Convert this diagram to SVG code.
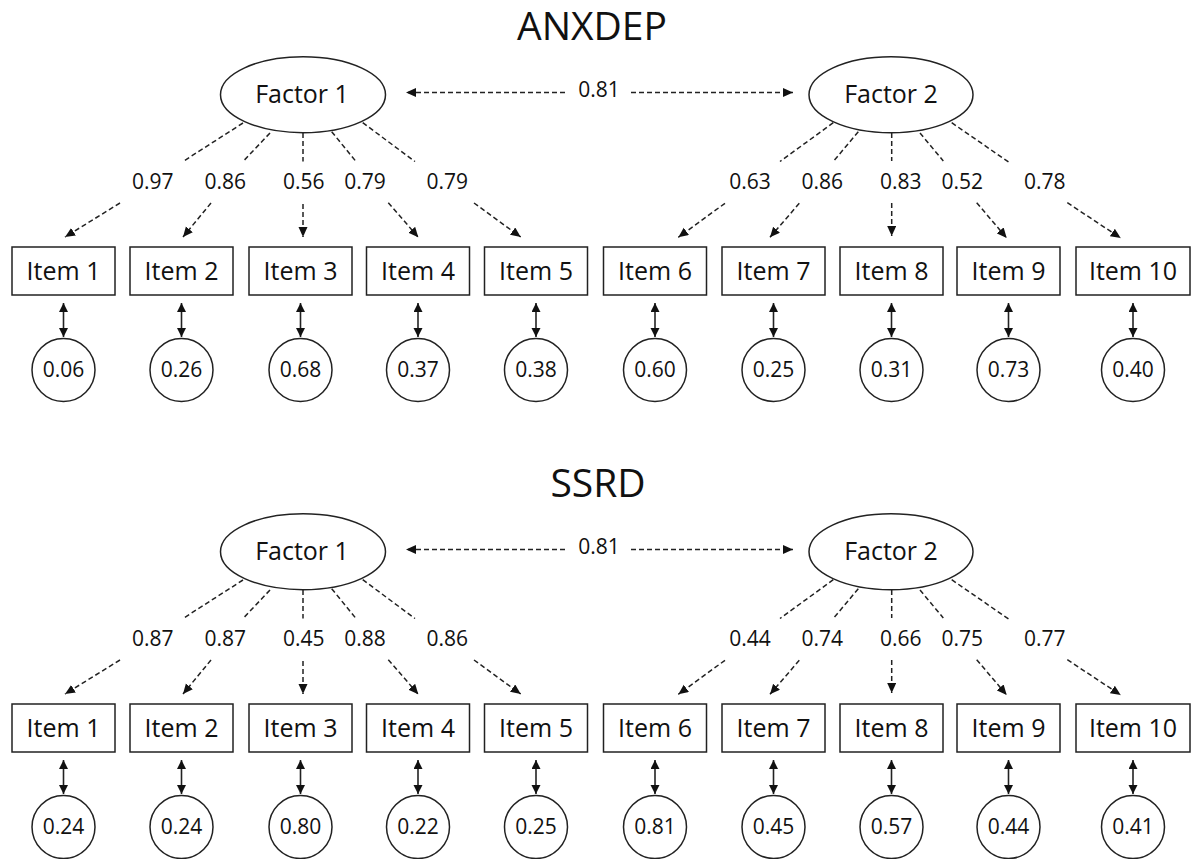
<svg xmlns="http://www.w3.org/2000/svg" width="1192" height="859" viewBox="0 0 1192 859">
<style>
text{font-family:"Open Sans","Liberation Sans",sans-serif;fill:#111;text-anchor:middle}
.title{font-size:39px}
.fac{font-size:25px}
.item{font-size:25px}
.lab{font-size:21px}
.res{font-size:21px}
.shape{fill:#fff;stroke:#222;stroke-width:1.5}
.dash{stroke:#222;stroke-width:1.5;stroke-dasharray:5,3;fill:none}
.solid{stroke:#222;stroke-width:1.6;fill:none}
</style>
<defs>
<marker id="ah" markerUnits="userSpaceOnUse" markerWidth="11" markerHeight="10" refX="10" refY="4.5" orient="auto-start-reverse" viewBox="0 0 11 10">
<path d="M0,0 L10,4.5 L0,9 z" fill="#111"/>
</marker>
<marker id="ah2" markerUnits="userSpaceOnUse" markerWidth="10" markerHeight="10" refX="9" refY="4.5" orient="auto-start-reverse" viewBox="0 0 10 10">
<path d="M0,0 L9,4.5 L0,9 z" fill="#111"/>
</marker>
</defs>

<g id="panel-anxdep">
<text id="title-anxdep" class="title" x="592" y="40">ANXDEP</text>
<g id="connectors-anxdep">
<line class="dash" x1="565" y1="92.5" x2="406" y2="92.5" marker-end="url(#ah)"/>
<line class="dash" x1="631" y1="92.5" x2="793" y2="92.5" marker-end="url(#ah)"/>
<text class="lab" x="599" y="97">0.81</text>
<line class="dash" x1="243" y1="123" x2="183" y2="161.5"/>
<line class="dash" x1="120" y1="203" x2="65" y2="237" marker-end="url(#ah)"/>
<line class="dash" x1="270" y1="133" x2="243" y2="161.5"/>
<line class="dash" x1="211" y1="203" x2="183" y2="237" marker-end="url(#ah)"/>
<line class="dash" x1="303" y1="133" x2="303" y2="161.5"/>
<line class="dash" x1="303" y1="204" x2="303" y2="237" marker-end="url(#ah)"/>
<line class="dash" x1="331.7" y1="131.7" x2="356" y2="161.5"/>
<line class="dash" x1="388.3" y1="202.7" x2="418.3" y2="237.3" marker-end="url(#ah)"/>
<line class="dash" x1="362.7" y1="122.7" x2="415" y2="161.5"/>
<line class="dash" x1="474" y1="203" x2="520.7" y2="237" marker-end="url(#ah)"/>
<line class="dash" x1="833.3" y1="122.7" x2="780" y2="161.5"/>
<line class="dash" x1="725" y1="203.3" x2="678.3" y2="237.3" marker-end="url(#ah)"/>
<line class="dash" x1="858.3" y1="131.7" x2="833.3" y2="161.5"/>
<line class="dash" x1="799.3" y1="203.3" x2="770" y2="237.3" marker-end="url(#ah)"/>
<line class="dash" x1="891.7" y1="133" x2="891.7" y2="161"/>
<line class="dash" x1="891.7" y1="203" x2="891.7" y2="236" marker-end="url(#ah)"/>
<line class="dash" x1="920" y1="133" x2="943.3" y2="161"/>
<line class="dash" x1="976.7" y1="202.7" x2="1006.7" y2="238" marker-end="url(#ah)"/>
<line class="dash" x1="951.7" y1="122.7" x2="1010" y2="163"/>
<line class="dash" x1="1067.3" y1="202.7" x2="1120.7" y2="238" marker-end="url(#ah)"/>
<text class="lab" x="152.7" y="188.5">0.97</text>
<text class="lab" x="225.2" y="188.5">0.86</text>
<text class="lab" x="303.8" y="188.5">0.56</text>
<text class="lab" x="365" y="188.5">0.79</text>
<text class="lab" x="447.2" y="188.5">0.79</text>
<text class="lab" x="750" y="188.5">0.63</text>
<text class="lab" x="822.3" y="188.5">0.86</text>
<text class="lab" x="900.8" y="188.5">0.83</text>
<text class="lab" x="962.2" y="188.5">0.52</text>
<text class="lab" x="1044.7" y="188.5">0.78</text>
<line class="solid" x1="63.5" y1="303" x2="63.5" y2="337" marker-start="url(#ah2)" marker-end="url(#ah2)"/>
<line class="solid" x1="181.5" y1="303" x2="181.5" y2="337" marker-start="url(#ah2)" marker-end="url(#ah2)"/>
<line class="solid" x1="300.5" y1="303" x2="300.5" y2="337" marker-start="url(#ah2)" marker-end="url(#ah2)"/>
<line class="solid" x1="418" y1="303" x2="418" y2="337" marker-start="url(#ah2)" marker-end="url(#ah2)"/>
<line class="solid" x1="536" y1="303" x2="536" y2="337" marker-start="url(#ah2)" marker-end="url(#ah2)"/>
<line class="solid" x1="655" y1="303" x2="655" y2="337" marker-start="url(#ah2)" marker-end="url(#ah2)"/>
<line class="solid" x1="773.5" y1="303" x2="773.5" y2="337" marker-start="url(#ah2)" marker-end="url(#ah2)"/>
<line class="solid" x1="891.5" y1="303" x2="891.5" y2="337" marker-start="url(#ah2)" marker-end="url(#ah2)"/>
<line class="solid" x1="1008.5" y1="303" x2="1008.5" y2="337" marker-start="url(#ah2)" marker-end="url(#ah2)"/>
<line class="solid" x1="1133" y1="303" x2="1133" y2="337" marker-start="url(#ah2)" marker-end="url(#ah2)"/>
</g>
<g id="a-factor1"><ellipse class="shape" cx="303" cy="94.7" rx="82.5" ry="38"/><text class="fac" x="302" y="102.7">Factor 1</text></g>
<g id="a-factor2"><ellipse class="shape" cx="891" cy="94.7" rx="82" ry="38"/><text class="fac" x="891" y="102.7">Factor 2</text></g>
<g id="a-item1"><rect class="shape" x="12" y="247" width="103" height="48"/><text class="item" x="63.5" y="280">Item 1</text></g>
<g id="a-item2"><rect class="shape" x="130" y="247" width="103" height="48"/><text class="item" x="181.5" y="280">Item 2</text></g>
<g id="a-item3"><rect class="shape" x="249" y="247" width="103" height="48"/><text class="item" x="300.5" y="280">Item 3</text></g>
<g id="a-item4"><rect class="shape" x="366.5" y="247" width="103" height="48"/><text class="item" x="418" y="280">Item 4</text></g>
<g id="a-item5"><rect class="shape" x="484.5" y="247" width="103" height="48"/><text class="item" x="536" y="280">Item 5</text></g>
<g id="a-item6"><rect class="shape" x="603.5" y="247" width="103" height="48"/><text class="item" x="655" y="280">Item 6</text></g>
<g id="a-item7"><rect class="shape" x="722" y="247" width="103" height="48"/><text class="item" x="773.5" y="280">Item 7</text></g>
<g id="a-item8"><rect class="shape" x="840" y="247" width="103" height="48"/><text class="item" x="891.5" y="280">Item 8</text></g>
<g id="a-item9"><rect class="shape" x="957" y="247" width="103" height="48"/><text class="item" x="1008.5" y="280">Item 9</text></g>
<g id="a-item10"><rect class="shape" x="1076" y="247" width="114" height="48"/><text class="item" x="1133" y="280">Item 10</text></g>
<g id="a-e1"><circle class="shape" cx="63.5" cy="370" r="31.5"/><text class="res" x="63.5" y="377">0.06</text></g>
<g id="a-e2"><circle class="shape" cx="181.5" cy="370" r="31.5"/><text class="res" x="181.5" y="377">0.26</text></g>
<g id="a-e3"><circle class="shape" cx="300.5" cy="370" r="31.5"/><text class="res" x="300.5" y="377">0.68</text></g>
<g id="a-e4"><circle class="shape" cx="418" cy="370" r="31.5"/><text class="res" x="418" y="377">0.37</text></g>
<g id="a-e5"><circle class="shape" cx="536" cy="370" r="31.5"/><text class="res" x="536" y="377">0.38</text></g>
<g id="a-e6"><circle class="shape" cx="655" cy="370" r="31.5"/><text class="res" x="655" y="377">0.60</text></g>
<g id="a-e7"><circle class="shape" cx="773.5" cy="370" r="31.5"/><text class="res" x="773.5" y="377">0.25</text></g>
<g id="a-e8"><circle class="shape" cx="891.5" cy="370" r="31.5"/><text class="res" x="891.5" y="377">0.31</text></g>
<g id="a-e9"><circle class="shape" cx="1008.5" cy="370" r="31.5"/><text class="res" x="1008.5" y="377">0.73</text></g>
<g id="a-e10"><circle class="shape" cx="1133" cy="370" r="31.5"/><text class="res" x="1133" y="377">0.40</text></g>
</g>

<g id="panel-ssrd" transform="translate(0,457)">
<text id="title-ssrd" class="title" x="598" y="40">SSRD</text>
<g id="connectors-ssrd">
<line class="dash" x1="565" y1="92.5" x2="406" y2="92.5" marker-end="url(#ah)"/>
<line class="dash" x1="631" y1="92.5" x2="793" y2="92.5" marker-end="url(#ah)"/>
<text class="lab" x="599" y="97">0.81</text>
<line class="dash" x1="243" y1="123" x2="183" y2="161.5"/>
<line class="dash" x1="120" y1="203" x2="65" y2="237" marker-end="url(#ah)"/>
<line class="dash" x1="270" y1="133" x2="243" y2="161.5"/>
<line class="dash" x1="211" y1="203" x2="183" y2="237" marker-end="url(#ah)"/>
<line class="dash" x1="303" y1="133" x2="303" y2="161.5"/>
<line class="dash" x1="303" y1="204" x2="303" y2="237" marker-end="url(#ah)"/>
<line class="dash" x1="331.7" y1="131.7" x2="356" y2="161.5"/>
<line class="dash" x1="388.3" y1="202.7" x2="418.3" y2="237.3" marker-end="url(#ah)"/>
<line class="dash" x1="362.7" y1="122.7" x2="415" y2="161.5"/>
<line class="dash" x1="474" y1="203" x2="520.7" y2="237" marker-end="url(#ah)"/>
<line class="dash" x1="833.3" y1="122.7" x2="780" y2="161.5"/>
<line class="dash" x1="725" y1="203.3" x2="678.3" y2="237.3" marker-end="url(#ah)"/>
<line class="dash" x1="858.3" y1="131.7" x2="833.3" y2="161.5"/>
<line class="dash" x1="799.3" y1="203.3" x2="770" y2="237.3" marker-end="url(#ah)"/>
<line class="dash" x1="891.7" y1="133" x2="891.7" y2="161"/>
<line class="dash" x1="891.7" y1="203" x2="891.7" y2="236" marker-end="url(#ah)"/>
<line class="dash" x1="920" y1="133" x2="943.3" y2="161"/>
<line class="dash" x1="976.7" y1="202.7" x2="1006.7" y2="238" marker-end="url(#ah)"/>
<line class="dash" x1="951.7" y1="122.7" x2="1010" y2="163"/>
<line class="dash" x1="1067.3" y1="202.7" x2="1120.7" y2="238" marker-end="url(#ah)"/>
<text class="lab" x="152.7" y="188.5">0.87</text>
<text class="lab" x="225.2" y="188.5">0.87</text>
<text class="lab" x="303.8" y="188.5">0.45</text>
<text class="lab" x="365" y="188.5">0.88</text>
<text class="lab" x="447.2" y="188.5">0.86</text>
<text class="lab" x="750" y="188.5">0.44</text>
<text class="lab" x="822.3" y="188.5">0.74</text>
<text class="lab" x="900.8" y="188.5">0.66</text>
<text class="lab" x="962.2" y="188.5">0.75</text>
<text class="lab" x="1044.7" y="188.5">0.77</text>
<line class="solid" x1="63.5" y1="303" x2="63.5" y2="337" marker-start="url(#ah2)" marker-end="url(#ah2)"/>
<line class="solid" x1="181.5" y1="303" x2="181.5" y2="337" marker-start="url(#ah2)" marker-end="url(#ah2)"/>
<line class="solid" x1="300.5" y1="303" x2="300.5" y2="337" marker-start="url(#ah2)" marker-end="url(#ah2)"/>
<line class="solid" x1="418" y1="303" x2="418" y2="337" marker-start="url(#ah2)" marker-end="url(#ah2)"/>
<line class="solid" x1="536" y1="303" x2="536" y2="337" marker-start="url(#ah2)" marker-end="url(#ah2)"/>
<line class="solid" x1="655" y1="303" x2="655" y2="337" marker-start="url(#ah2)" marker-end="url(#ah2)"/>
<line class="solid" x1="773.5" y1="303" x2="773.5" y2="337" marker-start="url(#ah2)" marker-end="url(#ah2)"/>
<line class="solid" x1="891.5" y1="303" x2="891.5" y2="337" marker-start="url(#ah2)" marker-end="url(#ah2)"/>
<line class="solid" x1="1008.5" y1="303" x2="1008.5" y2="337" marker-start="url(#ah2)" marker-end="url(#ah2)"/>
<line class="solid" x1="1133" y1="303" x2="1133" y2="337" marker-start="url(#ah2)" marker-end="url(#ah2)"/>
</g>
<g id="b-factor1"><ellipse class="shape" cx="303" cy="94.7" rx="82.5" ry="38"/><text class="fac" x="302" y="102.7">Factor 1</text></g>
<g id="b-factor2"><ellipse class="shape" cx="891" cy="94.7" rx="82" ry="38"/><text class="fac" x="891" y="102.7">Factor 2</text></g>
<g id="b-item1"><rect class="shape" x="12" y="247" width="103" height="48"/><text class="item" x="63.5" y="280">Item 1</text></g>
<g id="b-item2"><rect class="shape" x="130" y="247" width="103" height="48"/><text class="item" x="181.5" y="280">Item 2</text></g>
<g id="b-item3"><rect class="shape" x="249" y="247" width="103" height="48"/><text class="item" x="300.5" y="280">Item 3</text></g>
<g id="b-item4"><rect class="shape" x="366.5" y="247" width="103" height="48"/><text class="item" x="418" y="280">Item 4</text></g>
<g id="b-item5"><rect class="shape" x="484.5" y="247" width="103" height="48"/><text class="item" x="536" y="280">Item 5</text></g>
<g id="b-item6"><rect class="shape" x="603.5" y="247" width="103" height="48"/><text class="item" x="655" y="280">Item 6</text></g>
<g id="b-item7"><rect class="shape" x="722" y="247" width="103" height="48"/><text class="item" x="773.5" y="280">Item 7</text></g>
<g id="b-item8"><rect class="shape" x="840" y="247" width="103" height="48"/><text class="item" x="891.5" y="280">Item 8</text></g>
<g id="b-item9"><rect class="shape" x="957" y="247" width="103" height="48"/><text class="item" x="1008.5" y="280">Item 9</text></g>
<g id="b-item10"><rect class="shape" x="1076" y="247" width="114" height="48"/><text class="item" x="1133" y="280">Item 10</text></g>
<g id="b-e1"><circle class="shape" cx="63.5" cy="370" r="31.5"/><text class="res" x="63.5" y="377">0.24</text></g>
<g id="b-e2"><circle class="shape" cx="181.5" cy="370" r="31.5"/><text class="res" x="181.5" y="377">0.24</text></g>
<g id="b-e3"><circle class="shape" cx="300.5" cy="370" r="31.5"/><text class="res" x="300.5" y="377">0.80</text></g>
<g id="b-e4"><circle class="shape" cx="418" cy="370" r="31.5"/><text class="res" x="418" y="377">0.22</text></g>
<g id="b-e5"><circle class="shape" cx="536" cy="370" r="31.5"/><text class="res" x="536" y="377">0.25</text></g>
<g id="b-e6"><circle class="shape" cx="655" cy="370" r="31.5"/><text class="res" x="655" y="377">0.81</text></g>
<g id="b-e7"><circle class="shape" cx="773.5" cy="370" r="31.5"/><text class="res" x="773.5" y="377">0.45</text></g>
<g id="b-e8"><circle class="shape" cx="891.5" cy="370" r="31.5"/><text class="res" x="891.5" y="377">0.57</text></g>
<g id="b-e9"><circle class="shape" cx="1008.5" cy="370" r="31.5"/><text class="res" x="1008.5" y="377">0.44</text></g>
<g id="b-e10"><circle class="shape" cx="1133" cy="370" r="31.5"/><text class="res" x="1133" y="377">0.41</text></g>
</g>
</svg>
